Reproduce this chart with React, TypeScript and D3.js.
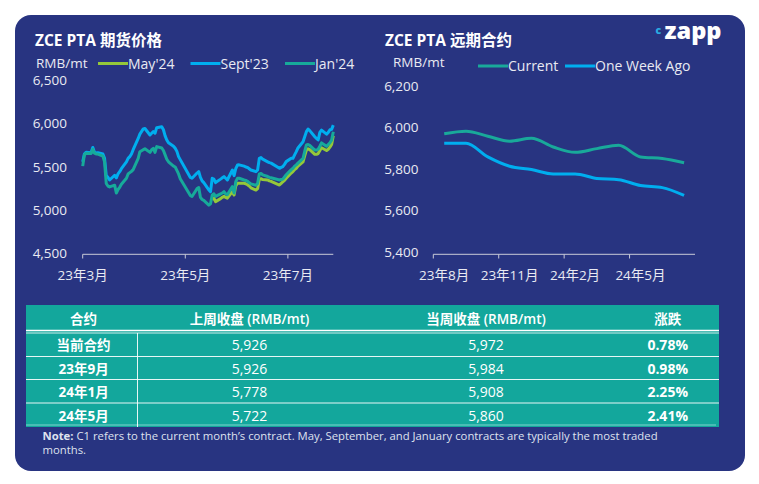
import React from "react";
import * as d3 from "d3";

// ZCE PTA futures: daily settlement of three contracts
const tradeDates = [
  "2023-03-01","2023-03-02","2023-03-03","2023-03-06","2023-03-07","2023-03-08","2023-03-09","2023-03-10",
  "2023-03-13","2023-03-14","2023-03-15","2023-03-16","2023-03-17","2023-03-20","2023-03-21","2023-03-22",
  "2023-03-23","2023-03-24","2023-03-27","2023-03-28","2023-03-29","2023-03-30","2023-03-31","2023-04-03",
  "2023-04-04","2023-04-06","2023-04-07","2023-04-10","2023-04-11","2023-04-12","2023-04-13","2023-04-14",
  "2023-04-17","2023-04-18","2023-04-19","2023-04-20","2023-04-21","2023-04-24","2023-04-25","2023-04-26",
  "2023-04-27","2023-04-28","2023-05-04","2023-05-05","2023-05-08","2023-05-09","2023-05-10","2023-05-11",
  "2023-05-12","2023-05-15","2023-05-16","2023-05-17","2023-05-18","2023-05-19","2023-05-22","2023-05-23",
  "2023-05-24","2023-05-25","2023-05-26","2023-05-29","2023-05-30","2023-05-31","2023-06-01","2023-06-02",
  "2023-06-05","2023-06-06","2023-06-07","2023-06-08","2023-06-09","2023-06-12","2023-06-13","2023-06-14",
  "2023-06-15","2023-06-16","2023-06-19","2023-06-20","2023-06-21","2023-06-26","2023-06-27","2023-06-28",
  "2023-06-29","2023-06-30","2023-07-03","2023-07-04","2023-07-05","2023-07-06","2023-07-07","2023-07-10",
  "2023-07-11","2023-07-12","2023-07-13","2023-07-14","2023-07-17","2023-07-18","2023-07-19","2023-07-20",
  "2023-07-21","2023-07-24","2023-07-25","2023-07-26","2023-07-27","2023-07-28",
];

const sept23 = [
  5560,5650,5670,5665,5725,5670,5660,5665,
  5650,5600,5400,5380,5350,5405,5375,5420,
  5446,5480,5560,5600,5620,5650,5700,5830,
  5880,5940,5945,5870,5890,5910,5890,5954,
  5965,5930,5860,5812,5780,5740,5716,5680,
  5620,5585,5380,5370,5430,5446,5380,5340,
  5320,5235,5215,5369,5360,5320,5360,5375,
  5389,5370,5350,5465,5400,5480,5523,5525,
  5510,5500,5495,5480,5465,5446,5465,5600,
  5610,5590,5560,5550,5545,5485,5495,5505,
  5530,5562,5600,5600,5640,5677,5720,5792,
  5850,5908,5939,5920,5850,5830,5812,5900,
  5926,5880,5900,5930,5935,5984,
];

const jan24 = [
  5510,5640,5660,5655,5705,5660,5650,5650,
  5625,5560,5310,5280,5270,5290,5200,5240,
  5265,5300,5370,5420,5435,5450,5470,5600,
  5677,5700,5710,5669,5700,5716,5669,5735,
  5720,5690,5640,5590,5560,5510,5500,5460,
  5420,5365,5170,5160,5250,5262,5150,5125,
  5115,5060,5075,5177,5190,5160,5190,5200,
  5215,5190,5180,5273,5200,5330,5369,5370,
  5350,5345,5335,5320,5305,5290,5310,5420,
  5425,5410,5390,5380,5375,5350,5355,5360,
  5385,5410,5470,5485,5510,5525,5545,5600,
  5680,5754,5760,5750,5696,5696,5705,5740,
  5778,5740,5760,5780,5810,5908,
];

// May'24 starts trading on its listing day
const may24Listing = "2023-05-17";
const may24 = [
  5130,5140,5100,5135,5150,
  5160,5150,5140,5215,5177,5280,5312,5312,
  5312,5305,5295,5280,5260,5234,5250,5360,
  5365,5355,5350,5340,5335,5292,5310,5330,
  5345,5370,5430,5446,5470,5485,5510,5560,
  5630,5696,5710,5700,5646,5646,5655,5690,
  5722,5690,5705,5730,5760,5860,
];

const leftYTicks = [4500, 5000, 5500, 6000, 6500];
const leftXTicks = ["2023-03-01", "2023-05-01", "2023-07-01"];
const leftXTickLabels = ["23年3月", "23年5月", "23年7月"];

// Forward curve by contract month
const curveMonths = [
  "23年8月","23年9月","23年10月","23年11月","23年12月","24年1月",
  "24年2月","24年3月","24年4月","24年5月","24年6月","24年7月",
];
const curveCurrent = [5972, 5984, 5960, 5936, 5950, 5908, 5882, 5900, 5916, 5860, 5852, 5832];
const curveWeekAgo = [5926, 5926, 5860, 5815, 5799, 5778, 5778, 5756, 5750, 5722, 5712, 5674];
const rightYTicks = [5400, 5600, 5800, 6000, 6200];
const rightLabelEvery = 3;

// Weekly close table
const tableHeaders = ["合约", "上周收盘 (RMB/mt)", "当周收盘 (RMB/mt)", "涨跌"];
const tableContracts = ["当前合约", "23年9月", "24年1月", "24年5月"];
const prevClose = [5926, 5926, 5778, 5722];
const currClose = [5972, 5984, 5908, 5860];

const NAVY = "#283481";
const TEAL_TABLE = "#13a79c";
const C_SEPT = "#00aeef";
const C_JAN = "#17aa9a";
const C_MAY = "#95c83a";
const C_CURRENT = "#19a99a";
const C_WEEK = "#00aeef";
const AXIS = "#c9cbd8";
const TICK_TEXT = "#e9eaf2";
const FONT = "'Open Sans', 'Noto Sans CJK SC', sans-serif";

const parse = d3.timeParse("%Y-%m-%d");
const fmtNum = d3.format(",");
const fmtPct = d3.format(".2%");

type Pt = { date: Date; v: number };

export default function App() {
  // left panel scales
  const xL = d3
    .scaleTime()
    .domain([parse(tradeDates[0])!, parse(tradeDates[tradeDates.length - 1])!])
    .range([82.7, 333.3]);
  const yL = d3.scaleLinear().domain([4500, 6500]).range([253.6, 80.4]);

  const toPts = (vals: number[], dates: string[]): Pt[] =>
    vals.map((v, i) => ({ date: parse(dates[i])!, v }));
  const mayStart = tradeDates.indexOf(may24Listing);
  const seriesL = [
    { name: "May'24", color: C_MAY, pts: toPts(may24, tradeDates.slice(mayStart)) },
    { name: "Sept'23", color: C_SEPT, pts: toPts(sept23, tradeDates) },
    { name: "Jan'24", color: C_JAN, pts: toPts(jan24, tradeDates) },
  ];
  const lineL = d3
    .line<Pt>()
    .x((d) => xL(d.date))
    .y((d) => yL(d.v));

  // right panel scales
  const xR = d3.scaleBand<string>().domain(curveMonths).range([433.3, 695]).padding(0);
  const yR = d3.scaleLinear().domain([5400, 6200]).range([252.3, 86.4]);
  const bw = xR.bandwidth();
  const lineR = d3
    .line<number>()
    .x((_, i) => (xR(curveMonths[i]) as number) + bw / 2)
    .y((d) => yR(d))
    .curve(d3.curveMonotoneX);

  const legendL = [
    { name: "May'24", color: C_MAY, x: 98 },
    { name: "Sept'23", color: C_SEPT, x: 190.5 },
    { name: "Jan'24", color: C_JAN, x: 285 },
  ];
  const legendR = [
    { name: "Current", color: C_CURRENT, x: 478 },
    { name: "One Week Ago", color: C_WEEK, x: 565 },
  ];

  const colX = [83.6, 249.5, 486, 667.7];
  const rowY = [345, 368.5, 392, 415.5];

  return (
    <svg
      width={759}
      height={484}
      style={{ position: "absolute", left: 0, top: 0, background: "#ffffff" }}
      fontFamily={FONT}
    >
      <rect x={15} y={15} width={730} height={456} rx={16} fill={NAVY} />

      {/* ---------- left panel ---------- */}
      <text x={35} y={46} fill="#fff" fontSize={15.5} fontWeight={700}>
        ZCE PTA 期货价格
      </text>
      <text x={36} y={67.5} fill={TICK_TEXT} fontSize={13.5}>
        RMB/mt
      </text>
      {legendL.map((l) => (
        <g key={l.name}>
          <line x1={l.x} x2={l.x + 30} y1={63.5} y2={63.5} stroke={l.color} strokeWidth={3} />
          <text x={l.x + 30} y={68.5} fill={TICK_TEXT} fontSize={14}>
            {l.name}
          </text>
        </g>
      ))}
      {leftYTicks.map((t) => (
        <text key={t} x={67} y={yL(t) + 4.5} textAnchor="end" fill={TICK_TEXT} fontSize={13.5}>
          {fmtNum(t)}
        </text>
      ))}
      <line x1={82.7} x2={333.3} y1={254.3} y2={254.3} stroke={AXIS} strokeWidth={1} />
      {leftXTicks.map((t, i) => {
        const x = xL(parse(t)!);
        return (
          <g key={t}>
            <line x1={x} x2={x} y1={254.3} y2={258.5} stroke={AXIS} strokeWidth={1} />
            <text x={x} y={280} textAnchor="middle" fill={TICK_TEXT} fontSize={13.5}>
              {leftXTickLabels[i]}
            </text>
          </g>
        );
      })}
      {seriesL.map((s) => (
        <path
          key={s.name}
          d={lineL(s.pts) || ""}
          fill="none"
          stroke={s.color}
          strokeWidth={3}
          strokeLinejoin="round"
        />
      ))}

      {/* ---------- right panel ---------- */}
      <text x={385} y={46} fill="#fff" fontSize={15.5} fontWeight={700}>
        ZCE PTA 远期合约
      </text>
      <text x={393} y={67} fill={TICK_TEXT} fontSize={13.5}>
        RMB/mt
      </text>
      {legendR.map((l) => (
        <g key={l.name}>
          <line x1={l.x} x2={l.x + 30} y1={66} y2={66} stroke={l.color} strokeWidth={3} />
          <text x={l.x + 30} y={71} fill={TICK_TEXT} fontSize={14}>
            {l.name}
          </text>
        </g>
      ))}
      {rightYTicks.map((t) => (
        <text key={t} x={418.5} y={yR(t) + 4.5} textAnchor="end" fill={TICK_TEXT} fontSize={13.5}>
          {fmtNum(t)}
        </text>
      ))}
      <line x1={433.3} x2={695} y1={254.3} y2={254.3} stroke={AXIS} strokeWidth={1} />
      {curveMonths.map((m, i) =>
        i % rightLabelEvery === 0 ? (
          <g key={m}>
            <line
              x1={xR(m) as number}
              x2={xR(m) as number}
              y1={254.3}
              y2={258.5}
              stroke={AXIS}
              strokeWidth={1}
            />
            <text
              x={(xR(m) as number) + bw / 2}
              y={280}
              textAnchor="middle"
              fill={TICK_TEXT}
              fontSize={13.5}
            >
              {m}
            </text>
          </g>
        ) : null
      )}
      <path d={lineR(curveCurrent) || ""} fill="none" stroke={C_CURRENT} strokeWidth={3} />
      <path d={lineR(curveWeekAgo) || ""} fill="none" stroke={C_WEEK} strokeWidth={3} />

      {/* logo */}
      <text x={655.5} y={34} fill="#29abe2" fontSize={10.5} fontWeight={800}>
        c
      </text>
      <text
        x={664.5}
        y={39}
        fill="#fff"
        fontSize={22}
        fontWeight={800}
        textLength={57}
        lengthAdjust="spacingAndGlyphs"
      >
        zapp
      </text>

      {/* ---------- table ---------- */}
      <rect x={26} y={305} width={693} height={122} fill={TEAL_TABLE} />
      <line x1={26} x2={719} y1={330.5} y2={330.5} stroke="#ffffff" strokeWidth={1.5} />
      <line x1={26} x2={719} y1={333} y2={333} stroke="#ffffff" strokeWidth={1} opacity={0.8} />
      {[356.5, 379.5, 403].map((y) => (
        <line key={y} x1={26} x2={719} y1={y} y2={y} stroke="#ffffff" strokeWidth={1} opacity={0.9} />
      ))}
      <line x1={26} x2={716} y1={425} y2={425} stroke="#7fd3cc" strokeWidth={1} />
      <line x1={137.5} x2={137.5} y1={333} y2={427} stroke="#ffffff" strokeWidth={1} opacity={0.9} />
      {tableHeaders.map((h, i) => (
        <text
          key={h}
          x={colX[i]}
          y={324}
          textAnchor="middle"
          fill="#fff"
          fontSize={13.5}
          fontWeight={600}
        >
          {h}
        </text>
      ))}
      {tableContracts.map((c, r) => (
        <g key={c}>
          <text x={colX[0]} y={rowY[r] + 5} textAnchor="middle" fill="#fff" fontSize={13.5} fontWeight={700}>
            {c}
          </text>
          <text x={colX[1]} y={rowY[r] + 5} textAnchor="middle" fill="#fff" fontSize={14}>
            {fmtNum(prevClose[r])}
          </text>
          <text x={colX[2]} y={rowY[r] + 5} textAnchor="middle" fill="#fff" fontSize={14}>
            {fmtNum(currClose[r])}
          </text>
          <text x={colX[3]} y={rowY[r] + 5} textAnchor="middle" fill="#fff" fontSize={14} fontWeight={700}>
            {fmtPct(currClose[r] / prevClose[r] - 1)}
          </text>
        </g>
      ))}

      {/* note */}
      <text x={42.5} y={439.5} fill="#dfe2ee" fontSize={11.3}>
        <tspan fontWeight={700}>Note:</tspan>
        <tspan> C1 refers to the current month’s contract. May, September, and January contracts are typically the most traded</tspan>
      </text>
      <text x={42.5} y={454} fill="#dfe2ee" fontSize={11.3}>
        months.
      </text>
    </svg>
  );
}
